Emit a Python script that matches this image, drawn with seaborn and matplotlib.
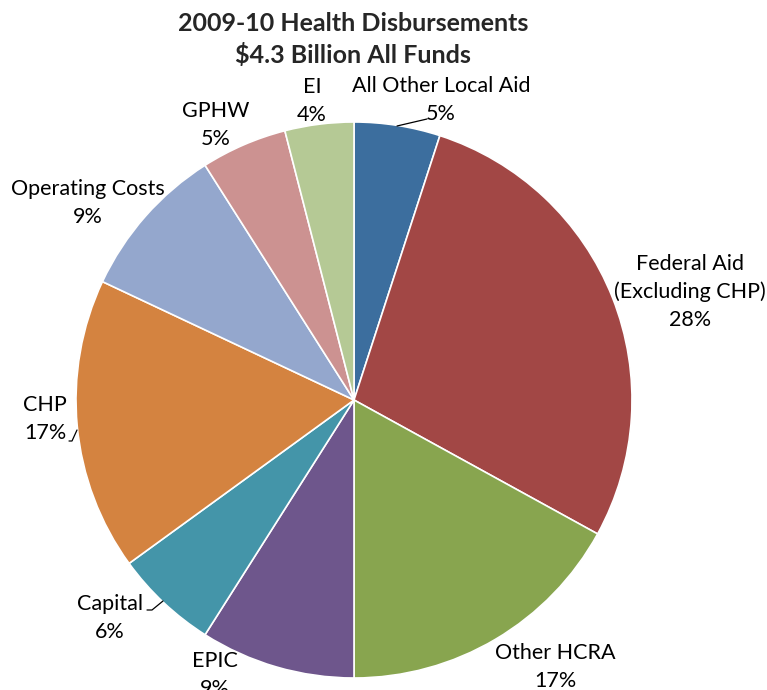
import matplotlib
matplotlib.use("Agg")
import matplotlib.pyplot as plt
import seaborn as sns

# ---- data ----
categories = ["All Other Local Aid", "Federal Aid\n(Excluding CHP)", "Other HCRA", "EPIC",
              "Capital", "CHP", "Operating Costs", "GPHW", "EI"]
shares = [5, 28, 17, 9, 6, 17, 9, 5, 4]
title_lines = ["2009-10 Health Disbursements", "$4.3 Billion All Funds"]

colors = ["#3C6E9E", "#A24745", "#88A54F", "#6E568C", "#4495A9",
          "#D48340", "#94A7CD", "#CC9291", "#B5C995"]

sns.set_theme(style="white")
plt.rcParams["font.family"] = ["Lato", "DejaVu Sans"]

W, H = 767, 690
fig = plt.figure(figsize=(W / 100, H / 100), dpi=100)
ax = fig.add_axes([0, 0, 1, 1])

# pie geometry in pixels
cx, cy, R = 354, 400, 278

ax.pie(shares, startangle=90, counterclock=False, colors=colors,
       wedgeprops=dict(edgecolor="white", linewidth=1.2), radius=1)
ax.set_aspect("auto")
ax.set_xlim(-cx / R, (W - cx) / R)
ax.set_ylim(-(H - cy) / R, cy / R)
ax.axis("off")


def px(x, y):
    return (x - cx) / R, (cy - y) / R


# label layout (pixel centers of the text blocks)
label_pos = [(441, 100), (690, 292), (555, 667), (215, 675),
             (110, 618), (45, 419), (88, 203), (216, 125), (312, 101)]

for cat, val, (lx, ly) in zip(categories, shares, label_pos):
    ax.text(*px(lx, ly), f"{cat}\n{val}%", ha="center", va="center",
            fontsize=15.5, linespacing=1.45, color="black")

# leader lines
leaders = [[(397, 126), (427, 119)], [(69, 441), (72, 441), (77, 430)],
           [(147, 610), (152, 610), (163, 601)]]
for pts in leaders:
    xs, ys = zip(*[px(x, y) for x, y in pts])
    ax.plot(xs, ys, color="black", lw=0.9)

ax.text(*px(353, 40), "\n".join(title_lines), ha="center", va="center",
        fontsize=18, fontweight="bold", linespacing=1.4)

fig.savefig("out.png", dpi=100)
